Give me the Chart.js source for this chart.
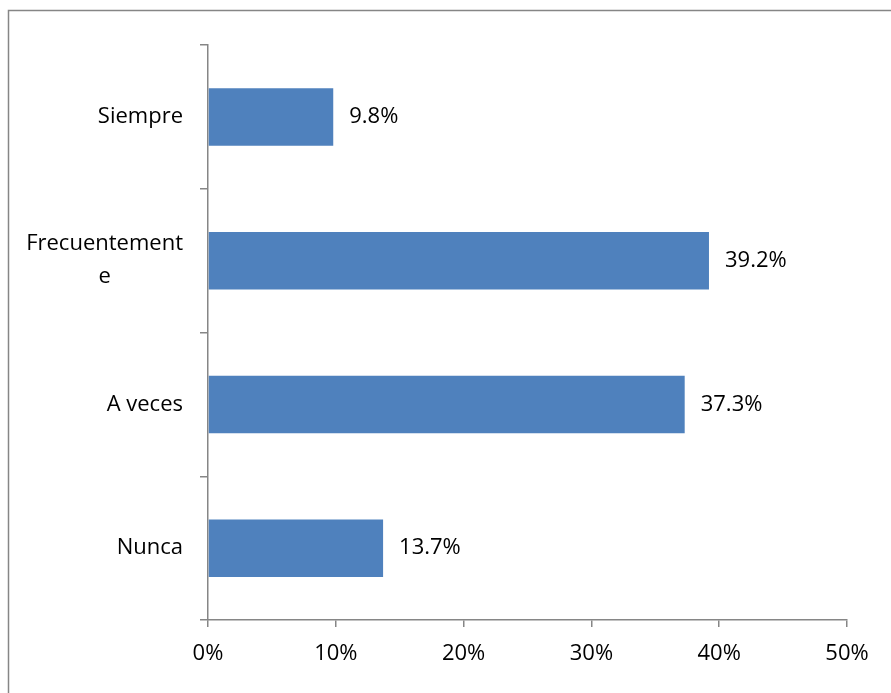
<!DOCTYPE html>
<html>
<head>
<meta charset="utf-8">
<script src="https://cdn.jsdelivr.net/npm/chart.js@4/dist/chart.umd.min.js"></script>
<style>
  html, body { margin: 0; padding: 0; background: #fff; }
  #wrap { width: 891px; height: 693px; position: relative; }
</style>
</head>
<body>
<div id="wrap"><canvas id="canvasG1"></canvas></div>
<script>
// categorias y porcentajes
var categorias = [['Siempre'], ['Frecuentement', 'e'], ['A veces'], ['Nunca']];
var porcentajes = [9.8, 39.2, 37.3, 13.7];
var ticksX = [0, 10, 20, 30, 40, 50];

var fuente = '"Open Sans", sans-serif';
var tamFuente = 22;
var grisEje = '#868686';

// marco exterior del grafico
var marcoPlugin = {
  id: 'marco',
  afterDraw: function(chart){
    var ctx = chart.ctx;
    ctx.save();
    ctx.strokeStyle = grisEje;
    ctx.lineWidth = 1.5;
    ctx.strokeRect(8.5, 10.5, 900, 700);
    ctx.restore();
  }
};

// etiquetas del eje Y (lineas centradas entre si, bloque alineado a la derecha)
var etiquetasYPlugin = {
  id: 'etiquetasY',
  afterDraw: function(chart){
    var ctx = chart.ctx;
    var sy = chart.scales.y;
    var xDer = sy.right - 25;
    ctx.save();
    ctx.font = tamFuente + 'px ' + fuente;
    ctx.fillStyle = '#000';
    ctx.textBaseline = 'middle';
    ctx.textAlign = 'center';
    var alto = 33;
    for(var i=0;i<categorias.length;i++){
      var lineas = categorias[i];
      var ancho = 0;
      for(var j=0;j<lineas.length;j++){
        ancho = Math.max(ancho, ctx.measureText(lineas[j]).width);
      }
      var yc = sy.getPixelForTick(i);
      var y0 = yc - (lineas.length - 1) * alto / 2;
      for(var j=0;j<lineas.length;j++){
        ctx.fillText(lineas[j], xDer - ancho / 2, y0 + j * alto);
      }
    }
    ctx.restore();
  }
};

// valores al final de cada barra
var valoresPlugin = {
  id: 'valores',
  afterDatasetsDraw: function(chart){
    var ctx = chart.ctx;
    var meta = chart.getDatasetMeta(0);
    ctx.save();
    ctx.font = tamFuente + 'px ' + fuente;
    ctx.fillStyle = '#000';
    ctx.textBaseline = 'middle';
    ctx.textAlign = 'left';
    meta.data.forEach(function(bar, i){
      ctx.fillText(porcentajes[i].toFixed(1) + '%', bar.x + 16, bar.y);
    });
    ctx.restore();
  }
};

var ctx = document.getElementById('canvasG1').getContext('2d');
window.myBarG1 = new Chart(ctx, {
  type: 'bar',
  data: {
    labels: categorias.map(function(l){ return l.join(''); }),
    datasets: [{
      data: porcentajes,
      backgroundColor: '#4F81BD',
      borderWidth: 0,
      barPercentage: 0.4,
      categoryPercentage: 1.0
    }]
  },
  options: {
    indexAxis: 'y',
    responsive: true,
    maintainAspectRatio: false,
    animation: false,
    layout: { padding: { left: 0, top: 45, right: 44, bottom: 0 } },
    plugins: {
      legend: { display: false },
      tooltip: { enabled: false }
    },
    scales: {
      x: {
        min: 0,
        max: 50,
        afterBuildTicks: function(axis){
          axis.ticks = ticksX.map(function(v){ return { value: v }; });
        },
        afterFit: function(axis){ axis.height = 73; },
        grid: {
          drawOnChartArea: false,
          tickLength: 7,
          color: grisEje,
          lineWidth: 1.5
        },
        border: { color: grisEje, width: 1.5 },
        ticks: {
          color: '#000',
          font: { family: fuente, size: tamFuente },
          padding: 14,
          maxRotation: 0,
          callback: function(v){ return v + '%'; }
        }
      },
      y: {
        afterFit: function(axis){ axis.width = 208; },
        grid: {
          offset: true,
          drawOnChartArea: false,
          tickLength: 8,
          color: grisEje,
          lineWidth: 1.5
        },
        border: { color: grisEje, width: 1.5 },
        ticks: { display: false }
      }
    }
  },
  plugins: [marcoPlugin, etiquetasYPlugin, valoresPlugin]
});
</script>
</body>
</html>
